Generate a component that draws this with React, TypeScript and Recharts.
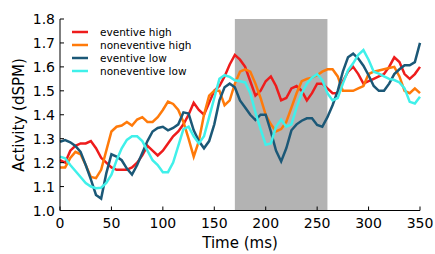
import React from 'react';
import { LineChart, Line, XAxis, YAxis, ReferenceArea, Label } from 'recharts';

const times = [0,5,10,15,20,25,30,35,40,45,50,55,60,65,70,75,80,85,90,95,100,105,110,115,120,125,130,135,140,145,150,155,160,165,170,175,180,185,190,195,200,205,210,215,220,225,230,235,240,245,250,255,260,265,270,275,280,285,290,295,300,305,310,315,320,325,330,335,340,345,350];

const eventiveHigh = [1.21,1.20,1.25,1.27,1.28,1.28,1.29,1.26,1.22,1.20,1.18,1.17,1.17,1.17,1.18,1.20,1.23,1.27,1.25,1.23,1.25,1.28,1.31,1.33,1.36,1.40,1.45,1.42,1.40,1.45,1.50,1.52,1.56,1.61,1.65,1.63,1.60,1.54,1.48,1.50,1.54,1.56,1.52,1.46,1.47,1.51,1.52,1.50,1.46,1.49,1.53,1.53,1.51,1.49,1.49,1.54,1.58,1.60,1.57,1.53,1.54,1.55,1.56,1.57,1.60,1.64,1.62,1.57,1.55,1.57,1.60];

const noneventiveHigh = [1.18,1.18,1.22,1.245,1.235,1.19,1.14,1.135,1.17,1.25,1.33,1.35,1.355,1.37,1.355,1.38,1.39,1.37,1.37,1.39,1.42,1.455,1.445,1.42,1.37,1.30,1.225,1.29,1.40,1.48,1.50,1.50,1.44,1.46,1.53,1.58,1.59,1.58,1.53,1.47,1.40,1.36,1.33,1.34,1.37,1.43,1.49,1.54,1.55,1.555,1.565,1.58,1.59,1.59,1.56,1.50,1.50,1.50,1.51,1.52,1.57,1.58,1.585,1.59,1.595,1.60,1.56,1.50,1.49,1.51,1.49];

const eventiveLow = [1.287,1.294,1.285,1.27,1.245,1.19,1.13,1.065,1.05,1.155,1.235,1.225,1.21,1.175,1.15,1.19,1.24,1.29,1.33,1.345,1.35,1.335,1.345,1.36,1.41,1.405,1.335,1.29,1.26,1.29,1.36,1.46,1.515,1.53,1.515,1.46,1.43,1.40,1.378,1.40,1.40,1.33,1.25,1.205,1.26,1.335,1.36,1.375,1.385,1.385,1.357,1.35,1.39,1.44,1.50,1.58,1.64,1.655,1.635,1.605,1.565,1.52,1.50,1.50,1.53,1.57,1.59,1.607,1.607,1.62,1.70];

const noneventiveLow = [1.225,1.218,1.19,1.165,1.14,1.115,1.10,1.093,1.095,1.115,1.15,1.21,1.26,1.295,1.31,1.31,1.29,1.25,1.21,1.19,1.16,1.16,1.20,1.27,1.34,1.35,1.31,1.28,1.31,1.39,1.47,1.55,1.565,1.558,1.544,1.54,1.535,1.49,1.41,1.34,1.275,1.28,1.35,1.38,1.35,1.36,1.43,1.49,1.53,1.555,1.57,1.545,1.49,1.46,1.47,1.53,1.585,1.615,1.65,1.67,1.63,1.58,1.572,1.56,1.55,1.545,1.535,1.51,1.454,1.447,1.475];

const xTicks = [0, 50, 100, 150, 200, 250, 300, 350];
const yTicks = [1.0, 1.1, 1.2, 1.3, 1.4, 1.5, 1.6, 1.7, 1.8];
const shadeStart = 170;
const shadeEnd = 260;

const seriesDefs = [
  { key: 'eventiveHigh', name: 'eventive high', color: '#ee1c1c' },
  { key: 'noneventiveHigh', name: 'noneventive high', color: '#ff7a0a' },
  { key: 'eventiveLow', name: 'eventive low', color: '#1b5877' },
  { key: 'noneventiveLow', name: 'noneventive low', color: '#40f0ea' },
];

const data = times.map((t, i) => ({
  t,
  eventiveHigh: eventiveHigh[i],
  noneventiveHigh: noneventiveHigh[i],
  eventiveLow: eventiveLow[i],
  noneventiveLow: noneventiveLow[i],
}));

const FONT = '"DejaVu Sans", sans-serif';

const XTick = (props: any) => {
  const { x, y, payload } = props;
  return (
    <g>
      <line x1={x} y1={y} x2={x} y2={y - 4} stroke="#000" strokeWidth={1} />
      <text x={x} y={y + 17.5} textAnchor="middle" fontSize={14} fontFamily={FONT} fill="#000">
        {payload.value}
      </text>
    </g>
  );
};

const YTick = (props: any) => {
  const { x, y, payload } = props;
  return (
    <g>
      <line x1={x} y1={y} x2={x + 4} y2={y} stroke="#000" strokeWidth={1} />
      <text x={x - 5} y={y + 5} textAnchor="end" fontSize={14} fontFamily={FONT} fill="#000">
        {Number(payload.value).toFixed(1)}
      </text>
    </g>
  );
};

const LegendBox = () => (
  <div
    style={{
      position: 'absolute',
      left: 72,
      top: 25.5,
      fontFamily: FONT,
      fontSize: 10.5,
      color: '#000',
      pointerEvents: 'none',
    }}
  >
    {seriesDefs.map((s) => (
      <div key={s.key} style={{ display: 'flex', alignItems: 'center', height: 13 }}>
        <svg width={16} height={4} style={{ marginRight: 12, display: 'block' }}>
          <line x1={0} y1={2} x2={16} y2={2} stroke={s.color} strokeWidth={2.5} />
        </svg>
        <span style={{ whiteSpace: 'nowrap', lineHeight: '13px' }}>{s.name}</span>
      </div>
    ))}
  </div>
);

export default function App() {
  return (
    <div style={{ position: 'absolute', left: 0, top: 0, width: 435, height: 254, background: '#fff' }}>
      <LineChart
        width={435}
        height={254}
        data={data}
        margin={{ top: 19, right: 15, bottom: 0, left: 0 }}
      >
        <ReferenceArea x1={shadeStart} x2={shadeEnd} fill="#b3b3b3" fillOpacity={1} stroke="none" ifOverflow="visible" />
        <XAxis
          dataKey="t"
          type="number"
          domain={[0, 350]}
          ticks={xTicks}
          tickLine={false}
          tickSize={0}
          tickMargin={0}
          tick={<XTick />}
          axisLine={{ stroke: '#000', strokeWidth: 1 }}
          height={43.5}
          interval={0}
        >
          <Label
            content={() => (
              <text x={240} y={247.5} textAnchor="middle" fontSize={15} fontFamily={FONT} fill="#000">
                Time (ms)
              </text>
            )}
          />
        </XAxis>
        <YAxis
          type="number"
          domain={[1.0, 1.8]}
          ticks={yTicks}
          tickLine={false}
          tickSize={0}
          tickMargin={0}
          tick={<YTick />}
          axisLine={{ stroke: '#000', strokeWidth: 1 }}
          width={60}
          interval={0}
          allowDataOverflow
        >
          <Label
            content={() => (
              <text
                x={0}
                y={0}
                transform="translate(24,115) rotate(-90)"
                textAnchor="middle"
                fontSize={15}
                fontFamily={FONT}
                fill="#000"
              >
                Activity (dSPM)
              </text>
            )}
          />
        </YAxis>
        {seriesDefs.map((s) => (
          <Line
            key={s.key}
            type="linear"
            dataKey={s.key}
            name={s.name}
            stroke={s.color}
            strokeWidth={2.5}
            dot={false}
            activeDot={false}
            isAnimationActive={false}
          />
        ))}
      </LineChart>
      <LegendBox />
    </div>
  );
}
